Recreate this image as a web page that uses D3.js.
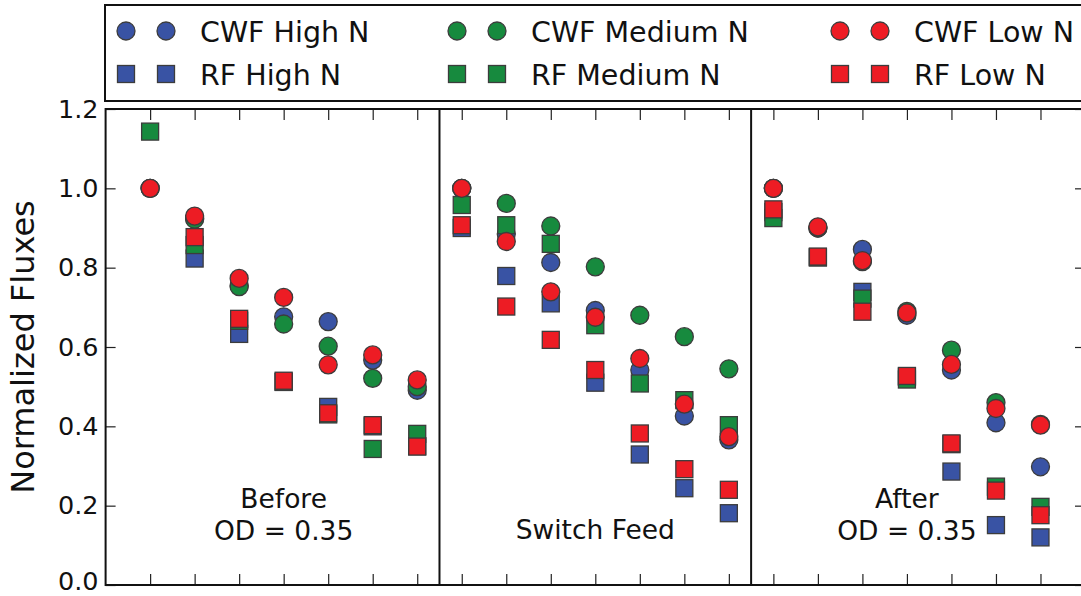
<!DOCTYPE html>
<html>
<head>
<meta charset="utf-8">
<script src="https://cdn.jsdelivr.net/npm/d3@7"></script>
<style>
  html, body { margin: 0; padding: 0; background: #fff; }
  svg { display: block; font-family: "DejaVu Sans", sans-serif; }
</style>
</head>
<body>
<svg id="chart" width="1081" height="596"></svg>
<script>
// Sample positions along the shared x axis (7 per phase)
const positions = d3.range(1, 22);

// Phase labels, each centred under the middle sample of its block
const phaseLabels = [
  { pos: 4,  lines: ["Before", "OD = 0.35"] },
  { pos: 11, lines: ["Switch Feed"] },
  { pos: 18, lines: ["After", "OD = 0.35"] }
];
const phaseDividers = [7.5, 14.5];

const yTicks = [0.0, 0.2, 0.4, 0.6, 0.8, 1.0, 1.2];

// Normalized fluxes per series (Before | Switch Feed | After)
const cwfHigh = [1.00, 0.925, 0.755, 0.676, 0.664, 0.567, 0.491,
                 1.00, 0.885, 0.813, 0.692, 0.542, 0.426, 0.366,
                 1.00, 0.900, 0.846, 0.680, 0.542, 0.409, 0.298];
const rfHigh  = [null, 0.823, 0.633, 0.512, 0.449, 0.400, 0.350,
                 0.900, 0.779, 0.710, 0.510, 0.329, 0.244, 0.181,
                 0.940, 0.826, 0.739, 0.525, 0.286, 0.151, 0.120];
const cwfMed  = [1.00, 0.922, 0.752, 0.658, 0.602, 0.521, 0.500,
                 1.00, 0.962, 0.905, 0.802, 0.680, 0.626, 0.545,
                 1.00, 0.900, 0.815, 0.690, 0.592, 0.460, 0.405];
const rfMed   = [1.143, 0.857, 0.666, 0.512, 0.430, 0.343, 0.381,
                 0.958, 0.907, 0.860, 0.655, 0.508, 0.466, 0.403,
                 0.925, 0.826, 0.722, 0.518, 0.355, 0.248, 0.197];
const cwfLow  = [1.00, 0.930, 0.773, 0.725, 0.555, 0.580, 0.517,
                 1.00, 0.866, 0.739, 0.675, 0.571, 0.456, 0.374,
                 1.00, 0.903, 0.818, 0.686, 0.556, 0.445, 0.403];
const rfLow   = [null, 0.877, 0.671, 0.515, 0.433, 0.403, 0.349,
                 0.907, 0.702, 0.618, 0.542, 0.382, 0.292, 0.240,
                 0.947, 0.828, 0.689, 0.527, 0.357, 0.238, 0.176];

const seriesNames  = ["CWF High N", "RF High N", "CWF Medium N", "RF Medium N", "CWF Low N", "RF Low N"];
const seriesValues = [cwfHigh, rfHigh, cwfMed, rfMed, cwfLow, rfLow];
const seriesShapes = ["circle", "square", "circle", "square", "circle", "square"];
const seriesColors = ["#3953a4", "#3953a4", "#178a3e", "#178a3e", "#ed1c24", "#ed1c24"];

const svg = d3.select("#chart");

const x = d3.scaleLinear().domain([0, 22]).range([105.6, 1085]);
const y = d3.scaleLinear().domain([0, 1.2]).range([585, 109]);

const R = 9, S = 17;
const edge = "#3c3c3c";

function drawMarker(g, shape, color, cx, cy) {
  if (shape === "circle") {
    g.append("circle").attr("cx", cx).attr("cy", cy).attr("r", R)
      .attr("fill", color).attr("stroke", edge).attr("stroke-width", 1.3);
  } else {
    g.append("rect").attr("x", cx - S / 2).attr("y", cy - S / 2)
      .attr("width", S).attr("height", S)
      .attr("fill", color).attr("stroke", edge).attr("stroke-width", 1.3);
  }
}

// Axes with inward ticks on every side
const tickStyle = sel => {
  sel.select(".domain").remove();
  sel.selectAll(".tick line").attr("stroke", "#222").attr("stroke-width", 1.2);
};

svg.append("g").attr("transform", `translate(${x(0)},0)`)
  .call(d3.axisLeft(y).tickValues(yTicks).tickSize(-10).tickPadding(7).tickFormat(d3.format(".1f")))
  .call(tickStyle)
  .call(g => g.selectAll("text").attr("font-size", 25.5).attr("fill", "#111")
    .attr("font-family", "DejaVu Sans")
    .attr("dy", d => d === 0 ? "0.17em" : "0.32em"));

svg.append("g").attr("transform", `translate(${x(22)},0)`)
  .call(d3.axisRight(y).tickValues(yTicks).tickSize(-10).tickFormat(""))
  .call(tickStyle);

svg.append("g").attr("transform", `translate(0,${y(0)})`)
  .call(d3.axisBottom(x).tickValues(positions).tickSize(-11).tickFormat(""))
  .call(tickStyle);

svg.append("g").attr("transform", `translate(0,${y(1.2)})`)
  .call(d3.axisTop(x).tickValues(positions).tickSize(-11).tickFormat(""))
  .call(tickStyle);

// Markers, series by series
const marks = svg.append("g");
seriesValues.forEach((vals, i) => {
  vals.forEach((v, j) => {
    if (v == null) return;
    drawMarker(marks, seriesShapes[i], seriesColors[i], x(positions[j]), y(v));
  });
});

// Plot frame and phase dividers
svg.append("rect")
  .attr("x", x(0)).attr("y", y(1.2))
  .attr("width", x(22) - x(0)).attr("height", y(0) - y(1.2))
  .attr("fill", "none").attr("stroke", "#111").attr("stroke-width", 2);

svg.selectAll("line.divider").data(phaseDividers).join("line")
  .attr("class", "divider")
  .attr("x1", d => x(d)).attr("x2", d => x(d))
  .attr("y1", y(1.2)).attr("y2", y(0))
  .attr("stroke", "#111").attr("stroke-width", 2);

// Phase annotations
phaseLabels.forEach(p => {
  const baseY = p.lines.length === 2 ? 508 : 539;
  p.lines.forEach((t, k) => {
    svg.append("text")
      .attr("x", x(p.pos)).attr("y", baseY + k * 31.5)
      .attr("text-anchor", "middle")
      .attr("font-size", 26.5).attr("fill", "#111")
      .text(t);
  });
});

// Y-axis title
svg.append("text")
  .attr("transform", `translate(34,${(y(0) + y(1.2)) / 2}) rotate(-90)`)
  .attr("text-anchor", "middle")
  .attr("font-size", 32).attr("fill", "#111")
  .text("Normalized Fluxes");

// Legend: three columns, two rows, two sample markers per entry
const legend = svg.append("g");
legend.append("rect")
  .attr("x", 105).attr("y", 5).attr("width", 1020).attr("height", 96)
  .attr("fill", "#fff").attr("stroke", "#111").attr("stroke-width", 2);

const colX = [126, 457, 840];
const rowY = [31, 74];
seriesNames.forEach((name, i) => {
  const col = Math.floor(i / 2), row = i % 2;
  const mx = colX[col], my = rowY[row];
  drawMarker(legend, seriesShapes[i], seriesColors[i], mx, my);
  drawMarker(legend, seriesShapes[i], seriesColors[i], mx + 40, my);
  legend.append("text")
    .attr("x", mx + 74).attr("y", my + 10.5)
    .attr("font-size", 28.5).attr("fill", "#111")
    .text(name);
});
</script>
</body>
</html>
